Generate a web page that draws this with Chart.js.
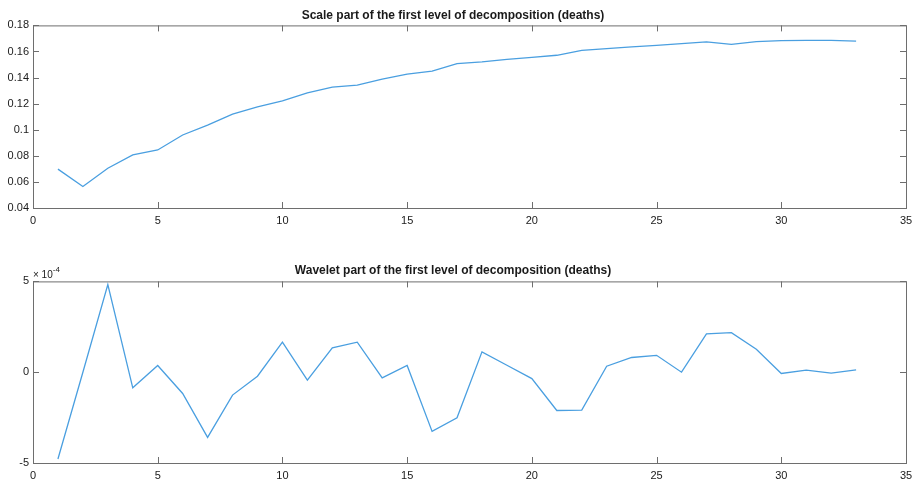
<!DOCTYPE html>
<html lang="en">

<head>
    <meta charset="UTF-8">
    <title>First level of decomposition (deaths)</title>
    <script src="https://cdn.jsdelivr.net/npm/chart.js"></script>
    <style>
        body {
            margin: 0;
            background: #fff;
            font-family: "Liberation Sans", Arial, sans-serif;
        }

        .panel {
            position: absolute;
            left: 0;
            width: 916px;
        }

        #top {
            top: 0;
            height: 240px;
        }

        #bottom {
            top: 240px;
            height: 242px;
        }
    </style>
</head>

<body>
    <div class="panel" id="top"><canvas id="scaleChart"></canvas></div>
    <div class="panel" id="bottom"><canvas id="waveletChart"></canvas></div>

    <script>
        // samples 1..33
        const steps = Array.from({ length: 33 }, (_, i) => i + 1);

        const scalePart = [
            0.0698, 0.0565, 0.0705, 0.0807, 0.0845, 0.0960, 0.1036, 0.1120, 0.1176, 0.1222,
            0.1283, 0.1327, 0.1342, 0.1388, 0.1426, 0.1449, 0.1507, 0.1520, 0.1540, 0.1555,
            0.1571, 0.1609, 0.1622, 0.1635, 0.1647, 0.1660, 0.1673, 0.1655, 0.1675, 0.1683,
            0.1685, 0.1685, 0.1680
        ];

        // wavelet coefficients, in units of 1e-4
        const waveletPart = [
            -4.78, 0.00, 4.82, -0.86, 0.37, -1.17, -3.59, -1.26, -0.22, 1.65,
            -0.44, 1.34, 1.65, -0.31, 0.37, -3.26, -2.51, 1.12, 0.38, -0.35,
            -2.11, -2.09, 0.33, 0.81, 0.93, 0.00, 2.11, 2.18, 1.26, -0.07,
            0.11, -0.05, 0.13
        ];
        const waveletExponent = -4;

        const xTicks = [0, 5, 10, 15, 20, 25, 30, 35];
        const scaleTicks = [0.04, 0.06, 0.08, 0.1, 0.12, 0.14, 0.16, 0.18];
        const waveletTicks = [-5, 0, 5];

        const lineColor = '#4a9fe0';
        const axisColor = '#6e6e6e';
        const textColor = '#1a1a1a';
        const fontFamily = '"Liberation Sans", Arial, sans-serif';

        // box around the axes with inward ticks on all four sides
        const boxPlugin = {
            id: 'box',
            afterDraw(chart) {
                const { ctx, chartArea: a, scales } = chart;
                const len = 6;
                ctx.save();
                ctx.strokeStyle = axisColor;
                ctx.lineWidth = 1;
                ctx.strokeRect(a.left + 0.5, a.top + 0.5, a.right - a.left, a.bottom - a.top);
                ctx.beginPath();
                scales.x.ticks.forEach(t => {
                    const px = Math.round(scales.x.getPixelForValue(t.value)) + 0.5;
                    ctx.moveTo(px, a.bottom);
                    ctx.lineTo(px, a.bottom - len);
                    ctx.moveTo(px, a.top);
                    ctx.lineTo(px, a.top + len);
                });
                scales.y.ticks.forEach(t => {
                    const py = Math.round(scales.y.getPixelForValue(t.value)) + 0.5;
                    ctx.moveTo(a.left, py);
                    ctx.lineTo(a.left + len, py);
                    ctx.moveTo(a.right, py);
                    ctx.lineTo(a.right - len, py);
                });
                ctx.stroke();

                const exp = chart.options.plugins.box.exponent;
                if (exp) {
                    ctx.fillStyle = textColor;
                    ctx.textBaseline = 'alphabetic';
                    ctx.font = '10px ' + fontFamily;
                    ctx.fillText('\u00d7 10', a.left, a.top - 3);
                    const w = ctx.measureText('\u00d7 10').width;
                    ctx.font = '8px ' + fontFamily;
                    ctx.fillText(String(exp), a.left + w, a.top - 9);
                }
                ctx.restore();
            }
        };

        function makeChart(id, title, values, yTicks, yFmt, exponent, titlePad, xHeight) {
            const yMin = yTicks[0];
            const yMax = yTicks[yTicks.length - 1];
            return new Chart(document.getElementById(id), {
                type: 'line',
                data: {
                    datasets: [{
                        data: steps.map((s, i) => ({ x: s, y: values[i] })),
                        borderColor: lineColor,
                        borderWidth: 1.3,
                        pointRadius: 0,
                        tension: 0,
                        fill: false
                    }]
                },
                options: {
                    responsive: true,
                    maintainAspectRatio: false,
                    animation: false,
                    layout: { padding: { left: 0, right: 10, top: 0, bottom: 0 } },
                    plugins: {
                        legend: { display: false },
                        tooltip: { enabled: false },
                        title: {
                            display: true,
                            text: title,
                            color: textColor,
                            font: { family: fontFamily, size: 12, weight: 'bold' },
                            padding: titlePad
                        },
                        box: { exponent: exponent }
                    },
                    scales: {
                        x: {
                            type: 'linear',
                            min: xTicks[0],
                            max: xTicks[xTicks.length - 1],
                            grid: { display: false, drawTicks: false, tickLength: 0 },
                            border: { display: false },
                            afterBuildTicks: s => { s.ticks = xTicks.map(v => ({ value: v })); },
                            afterFit: s => {
                                s.height = xHeight;
                                s.paddingLeft = 0;
                                s.paddingRight = 0;
                            },
                            ticks: {
                                color: textColor,
                                padding: 6,
                                maxRotation: 0,
                                font: { family: fontFamily, size: 11 }
                            }
                        },
                        y: {
                            type: 'linear',
                            min: yMin,
                            max: yMax,
                            grid: { display: false, drawTicks: false, tickLength: 0 },
                            border: { display: false },
                            afterBuildTicks: s => { s.ticks = yTicks.map(v => ({ value: v })); },
                            afterFit: s => { s.width = 33; },
                            ticks: {
                                color: textColor,
                                padding: 4,
                                font: { family: fontFamily, size: 11 },
                                callback: yFmt
                            }
                        }
                    }
                },
                plugins: [boxPlugin]
            });
        }

        makeChart('scaleChart', 'Scale part of the first level of decomposition (deaths)',
            scalePart, scaleTicks, v => String(+v.toFixed(2)), null,
            { top: 8, bottom: 3 }, 32);

        makeChart('waveletChart', 'Wavelet part of the first level of decomposition (deaths)',
            waveletPart, waveletTicks, v => String(v), waveletExponent,
            { top: 23, bottom: 4 }, 19);
    </script>
</body>

</html>
